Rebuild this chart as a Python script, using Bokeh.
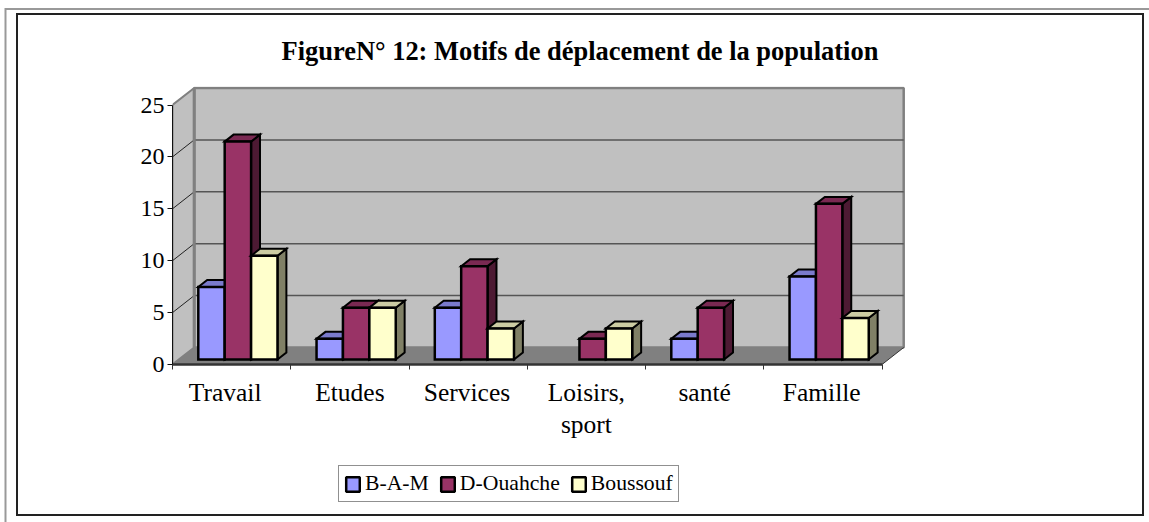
from bokeh.plotting import figure
from bokeh.embed import file_html
from bokeh.resources import INLINE
from bokeh.layouts import column
from bokeh.models import (Range1d, LinearAxis, FixedTicker, Legend, LegendItem, Title)

title_text = "FigureN° 12: Motifs de déplacement de la population"
categories = ["Travail", "Etudes", "Services", "Loisirs,\nsport", "santé", "Famille"]
bam = [7, 2, 5, 0, 2, 8]
ouahche = [21, 5, 9, 2, 5, 15]
boussouf = [10, 5, 3, 3, 0, 4]
series_names = ["B-A-M", "D-Ouahche", "Boussouf"]
y_ticks = [0, 5, 10, 15, 20, 25]
front_colors = ["#9999FF", "#993366", "#FFFFCC"]
top_colors = ["#7A7ACC", "#7A2952", "#CCCCA3"]
side_colors = ["#5C5C99", "#4D1A33", "#808066"]

OX, OY = 18, 15            # page position of the layout
W, H = 1124, 445
LEG_H = 54
FL, FR, FT, FB = 172 - OX, 906 - OX, 86 - OY, 364 - OY
PX_X = 118.25
PX_Y = 10.38
DX = 21.7 / PX_X     # oblique depth of the box, in category units
DY = 17 / PX_Y       # oblique depth of the box, in value units
D0, D1 = 0.29, 0.70  # bar depth slab inside the box
GAP = 19.5 / PX_X
BW = 26.4 / PX_X
NCAT = len(categories)
YMAX = y_ticks[-1]
# label anchors along the category axis (the first label sits left of its cell in the reference)
label_pos = [0.445, 1.5, 2.49, 3.5, 4.5, 5.49]

frame_shadow = ("0 0 0 2px #222222, 223px 229.5px 0 234.5px #FFFFFF, 222.5px 229px 0 236px #999999")

p = figure(width=W, height=H, output_backend="svg", toolbar_location=None,
           x_range=Range1d(0, (FR - FL) / PX_X), y_range=Range1d(0, (FB - FT) / PX_Y),
           x_axis_type=None, y_axis_type=None,
           min_border_left=FL, min_border_right=W - FR, min_border_top=FT, min_border_bottom=H - FB,
           background_fill_color="white", border_fill_color="white")
p.outline_line_color = None
p.grid.visible = False

WALL = "#C0C0C0"
EDGE = "#808080"
GRID = "#555555"
# left wall
p.patch([0, DX, DX, 0], [0, DY, YMAX + DY, YMAX], fill_color=WALL, line_color=EDGE, line_width=2)
# back wall
p.patch([DX, NCAT + DX, NCAT + DX, DX], [DY, DY, YMAX + DY, YMAX + DY], fill_color=WALL, line_color=EDGE, line_width=2.5)
# floor
p.patch([0, NCAT, NCAT + DX, DX], [0, 0, DY, DY], fill_color="#808080", line_color=None)
p.line([NCAT, NCAT + DX], [0, DY], line_color="#333333", line_width=1)
# gridlines
for t in y_ticks[1:-1]:
    p.line([DX, NCAT + DX], [t + DY, t + DY], line_color=GRID, line_width=1.5)
    p.line([0, DX], [t, t + DY], line_color="#222222", line_width=1)
p.line([DX, DX], [DY, YMAX + DY], line_color=EDGE, line_width=3)

for s, vals in enumerate([bam, ouahche, boussouf]):
    xs0, xs1, tops = [], [], []
    for c, v in enumerate(vals):
        if v > 0:
            xs0.append(c + GAP + s * BW + D0 * DX)
            xs1.append(c + GAP + (s + 1) * BW + D0 * DX)
            tops.append(v)
    base = D0 * DY
    d = (D1 - D0)
    top_x = [[a, b, b + d * DX, a + d * DX] for a, b in zip(xs0, xs1)]
    top_y = [[base + v, base + v, base + v + d * DY, base + v + d * DY] for v in tops]
    side_x = [[b, b + d * DX, b + d * DX, b] for b in xs1]
    side_y = [[base, base + d * DY, base + v + d * DY, base + v] for v in tops]
    p.patches(side_x, side_y, fill_color=side_colors[s], line_color="black", line_width=2, line_join="miter")
    p.patches(top_x, top_y, fill_color=top_colors[s], line_color="black", line_width=2, line_join="miter")
    p.quad(left=xs0, right=xs1, bottom=[base] * len(tops), top=[base + v for v in tops],
           fill_color=front_colors[s], line_color="black", line_width=2.5, line_join="miter")

FONT = "Liberation Serif"
yaxis = LinearAxis(ticker=FixedTicker(ticks=y_ticks), bounds=(0, YMAX),
                   major_label_text_font=FONT, major_label_text_font_size="24px",
                   major_label_text_color="black", major_tick_in=0, major_tick_out=5,
                   minor_tick_line_color=None, axis_line_color="#111111", major_tick_line_color="#111111",
                   major_label_standoff=3)
p.add_layout(yaxis, "left")

xaxis = LinearAxis(ticker=FixedTicker(ticks=list(range(NCAT + 1))), bounds=(0, NCAT),
                   major_label_text_font_size="0px", major_tick_in=0, major_tick_out=5,
                   minor_tick_line_color=None, axis_line_color="#333333", axis_line_width=2.5,
                   major_tick_line_color="#333333", major_label_text_color=None)
p.add_layout(xaxis, "below")
label_axis = LinearAxis(ticker=FixedTicker(ticks=label_pos),
                        major_label_overrides={pos: c for pos, c in zip(label_pos, categories)},
                        major_label_text_font=FONT, major_label_text_font_size="25.5px",
                        major_label_text_color="black", major_label_text_line_height=1.12,
                        major_tick_line_color=None, minor_tick_line_color=None, axis_line_color=None,
                        major_label_standoff=8, major_tick_in=0, major_tick_out=0)
p.add_layout(label_axis, "below")

p.title = Title(text=title_text, align="left", vertical_align="middle", offset=109, text_font=FONT,
                text_font_style="bold", text_font_size="26.45px", text_color="black", standoff=39)

# legend strip: a second figure directly below the chart (its frame lines up with the chart's)
leg = figure(width=W, height=LEG_H, output_backend="svg", toolbar_location=None,
             x_range=Range1d(0, 1), y_range=Range1d(0, 1), x_axis_type=None, y_axis_type=None,
             min_border=0, background_fill_color="white", border_fill_color="white")
leg.outline_line_color = None
leg.grid.visible = False
legend_items = []
for s, name in enumerate(series_names):
    # swatch source only: the quad lies outside the strip's range
    r = leg.quad(left=[2], right=[3], bottom=[2], top=[3], fill_color=front_colors[s], line_color="black", line_width=2.5)
    legend_items.append(LegendItem(label=name, renderers=[r]))
legend = Legend(items=legend_items, orientation="horizontal", location=(338 - 172, 514 - 502),
                border_line_color="#222222", border_line_width=1, background_fill_color="white",
                label_text_font=FONT, label_text_font_size="21.7px", label_text_color="black",
                glyph_width=17, glyph_height=18, spacing=10, padding=5, margin=0,
                label_standoff=4, label_height=19)
leg.add_layout(legend, "center")

page = column(p, leg, spacing=0, margin=(OY, 0, 0, OX), styles={"box-shadow": frame_shadow})
open("out.html", "w").write(file_html(page, INLINE))
